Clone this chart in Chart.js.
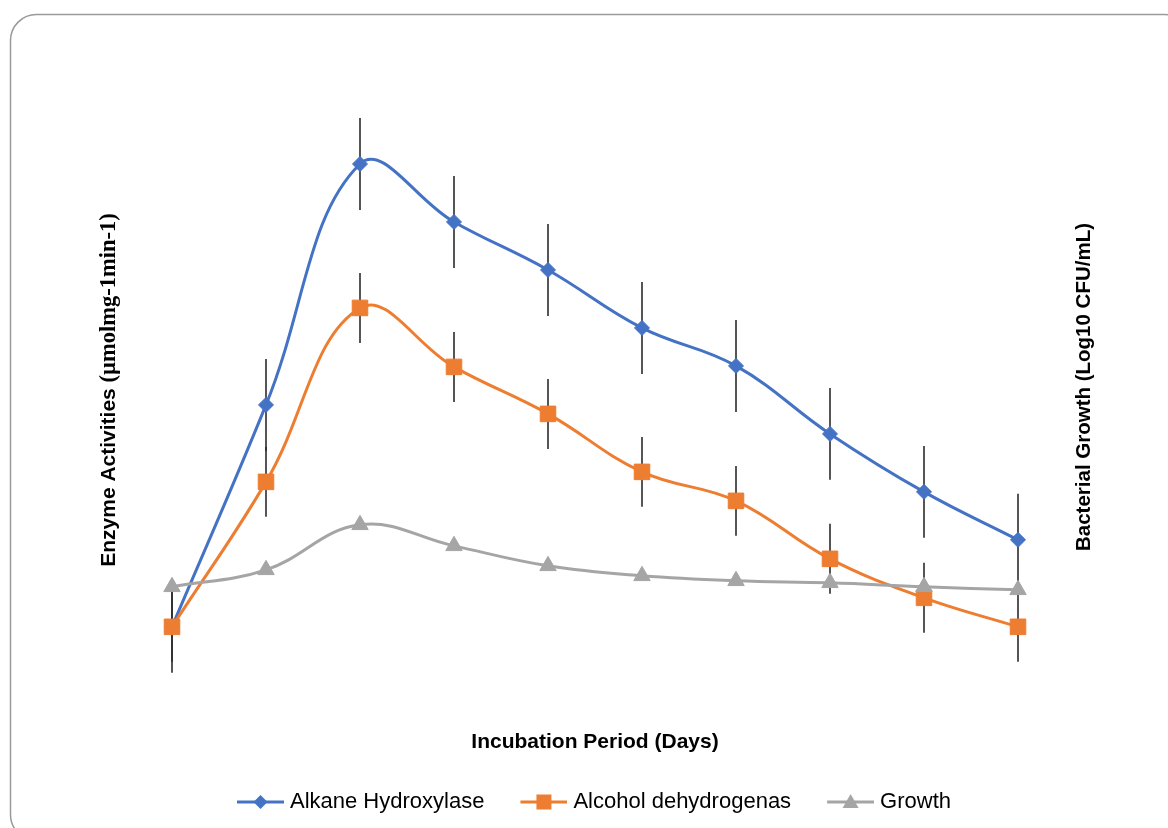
<!DOCTYPE html>
<html>
<head>
<meta charset="utf-8">
<script src="https://cdn.jsdelivr.net/npm/chart.js@4.4.1/dist/chart.umd.min.js"></script>
<style>
  html, body { margin: 0; padding: 0; background: #fff; }
  #wrap { position: relative; width: 1168px; height: 828px; }
</style>
</head>
<body>
<div id="wrap"><canvas id="chart"></canvas></div>
<script>
// Incubation days
const days = ['1', '2', '3', '4', '5', '6', '7', '8', '9', '10'];

// Enzyme activities (left axis)
const alkaneHydroxylase = [7.3, 29.5, 53.6, 47.8, 43.0, 37.2, 33.4, 26.6, 20.8, 16.0];
const alkaneHydroxylaseErr = [4.6, 4.6, 4.6, 4.6, 4.6, 4.6, 4.6, 4.6, 4.6, 4.6];
const alcoholDehydrogenase = [7.3, 21.8, 39.2, 33.3, 28.6, 22.8, 19.9, 14.1, 10.2, 7.3];
const alcoholDehydrogenaseErr = [3.5, 3.5, 3.5, 3.5, 3.5, 3.5, 3.5, 3.5, 3.5, 3.5];

// Bacterial growth, log10 CFU/mL (right axis)
const growth = [2.26, 2.60, 3.50, 3.08, 2.68, 2.48, 2.38, 2.34, 2.26, 2.20];

const BLUE = '#4472C4';
const ORANGE = '#ED7D31';
const GREY = '#A5A5A5';
const SANS = "'Liberation Sans', Arial, sans-serif";
const SERIF = "'Liberation Serif', 'Times New Roman', serif";

// Legend icon: a short line with the series marker in the middle
function makeIcon(color, shape) {
  const c = document.createElement('canvas');
  c.width = 50; c.height = 24;
  const g = c.getContext('2d');
  g.strokeStyle = color; g.fillStyle = color; g.lineWidth = 3;
  g.beginPath(); g.moveTo(3, 12); g.lineTo(50, 12); g.stroke();
  const cx = 26.5, cy = 12;
  g.beginPath();
  if (shape === 'diamond') {
    g.moveTo(cx, cy - 7); g.lineTo(cx + 7, cy); g.lineTo(cx, cy + 7); g.lineTo(cx - 7, cy);
  } else if (shape === 'square') {
    g.rect(cx - 7.5, cy - 7.5, 15, 15);
  } else {
    g.moveTo(cx, cy - 8); g.lineTo(cx + 8, cy + 6); g.lineTo(cx - 8, cy + 6);
  }
  g.closePath(); g.fill();
  return c;
}
const icons = [makeIcon(BLUE, 'diamond'), makeIcon(ORANGE, 'square'), makeIcon(GREY, 'triangle')];

const errorSets = [alkaneHydroxylaseErr, alcoholDehydrogenaseErr];

// Vertical error bars for the two enzyme series
const errorBars = {
  id: 'errorBars',
  beforeDatasetsDraw(chart) {
    const { ctx, scales } = chart;
    ctx.save();
    ctx.strokeStyle = '#2b2b2b';
    ctx.lineWidth = 1.6;
    errorSets.forEach((err, di) => {
      const ds = chart.data.datasets[di];
      const ys = scales[ds.yAxisID];
      ds.data.forEach((v, i) => {
        const x = scales.x.getPixelForValue(i);
        ctx.beginPath();
        ctx.moveTo(x, ys.getPixelForValue(v + err[i]));
        ctx.lineTo(x, ys.getPixelForValue(v - err[i]));
        ctx.stroke();
      });
    });
    ctx.restore();
  }
};

// Rounded outer frame and the two vertical axis titles
const frameAndTitles = {
  id: 'frameAndTitles',
  beforeDraw(chart) {
    const ctx = chart.ctx;
    ctx.save();
    ctx.strokeStyle = '#9a9a9a';
    ctx.lineWidth = 1.5;
    ctx.beginPath();
    ctx.roundRect(10.5, 14.5, 1180, 826, 26);
    ctx.stroke();
    ctx.restore();
  },
  afterDraw(chart) {
    const ctx = chart.ctx;
    ctx.save();
    ctx.fillStyle = '#000';
    ctx.textBaseline = 'middle';
    ctx.textAlign = 'left';
    // left: mixed sans / serif title
    const part1 = 'Enzyme Activities ';
    const part2 = '(\u00B5molmg-1min-1)';
    const f1 = 'bold 21px ' + SANS;
    const f2 = 'bold 22.5px ' + SERIF;
    ctx.font = f1; const w1 = ctx.measureText(part1).width;
    ctx.font = f2; const w2 = ctx.measureText(part2).width;
    ctx.translate(108, 390);
    ctx.rotate(-Math.PI / 2);
    const start = -(w1 + w2) / 2;
    ctx.font = f1; ctx.fillText(part1, start, 1);
    ctx.font = f2; ctx.fillText(part2, start + w1, 1);
    ctx.restore();

    ctx.save();
    ctx.fillStyle = '#000';
    ctx.textBaseline = 'middle';
    ctx.textAlign = 'center';
    ctx.font = 'bold 20.5px ' + SANS;
    ctx.translate(1084, 387);
    ctx.rotate(-Math.PI / 2);
    ctx.fillText('Bacterial Growth (Log10 CFU/mL)', 0, 0);
    ctx.restore();
  }
};

new Chart(document.getElementById('chart'), {
  type: 'line',
  data: {
    labels: days,
    datasets: [
      {
        label: 'Alkane Hydroxylase', data: alkaneHydroxylase, yAxisID: 'y', order: 3,
        borderColor: BLUE, backgroundColor: BLUE, borderWidth: 3,
        pointStyle: 'rectRot', pointRadius: 7.5, pointBorderWidth: 1, pointBackgroundColor: BLUE, pointBorderColor: BLUE,
        tension: 0.4
      },
      {
        label: 'Alcohol dehydrogenas', data: alcoholDehydrogenase, yAxisID: 'y', order: 2,
        borderColor: ORANGE, backgroundColor: ORANGE, borderWidth: 3,
        pointStyle: 'rect', pointRadius: 11, pointBorderWidth: 1, pointBackgroundColor: ORANGE, pointBorderColor: ORANGE,
        tension: 0.4
      },
      {
        label: 'Growth', data: growth, yAxisID: 'y1', order: 1,
        borderColor: GREY, backgroundColor: GREY, borderWidth: 3,
        pointStyle: 'triangle', pointRadius: 9.5, pointBorderWidth: 1, pointBackgroundColor: GREY, pointBorderColor: GREY,
        tension: 0.4
      }
    ]
  },
  options: {
    responsive: true,
    maintainAspectRatio: false,
    animation: false,
    layout: { padding: { top: 100, left: 172, right: 150, bottom: 5 } },
    plugins: {
      tooltip: { enabled: false },
      legend: {
        position: 'bottom',
        labels: {
          usePointStyle: true,
          pointStyleWidth: 40,
          padding: 38,
          color: '#000',
          font: { family: SANS, size: 22 },
          generateLabels: (chart) => chart.data.datasets.map((ds, i) => ({
            text: ds.label,
            pointStyle: icons[i],
            fillStyle: ds.borderColor,
            strokeStyle: ds.borderColor,
            lineWidth: 0,
            hidden: false,
            datasetIndex: i,
            fontColor: '#000'
          }))
        }
      }
    },
    scales: {
      x: {
        display: true,
        offset: false,
        ticks: { display: false },
        grid: { display: false, drawTicks: false },
        border: { display: false },
        title: {
          display: true,
          text: 'Incubation Period (Days)',
          color: '#000',
          font: { family: SANS, size: 21, weight: 'bold' },
          padding: { top: 30, bottom: -2 }
        }
      },
      y: { display: false, min: 0, max: 60 },
      y1: { display: false, position: 'right', min: 0, max: 12 }
    }
  },
  plugins: [errorBars, frameAndTitles]
});
</script>
</body>
</html>
